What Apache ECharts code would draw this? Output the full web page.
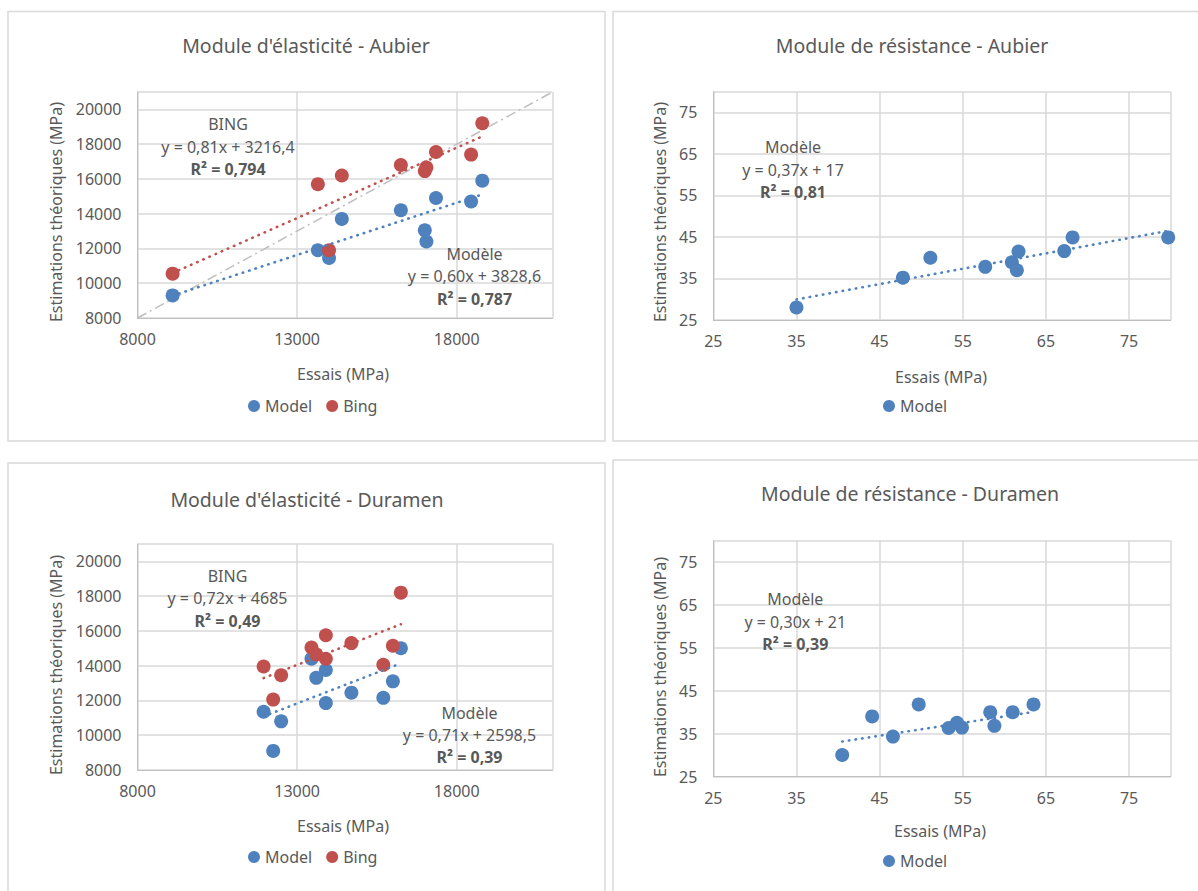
<!DOCTYPE html>
<html>
<head>
<meta charset="utf-8">
<script src="https://cdn.jsdelivr.net/npm/echarts@6/dist/echarts.min.js"></script>
<style>
html,body{margin:0;padding:0;background:#fff;}
#c{width:1198px;height:891px;}
</style>
</head>
<body>
<div id="c"></div>
<script>
// ---------- DATA ----------
// Module d'élasticité - Aubier
const elastAubierX      = [9100, 13650, 14000, 14400, 16250, 17000, 17050, 17350, 18450, 18800];
const elastAubierModelY = [9300, 11900, 11450, 13700, 14200, 13050, 12400, 14900, 14700, 15900];
const elastAubierBingY  = [10550, 15700, 11900, 16200, 16800, 16450, 16650, 17550, 17400, 19200];
const elastAubierModelFit = [0.60, 3828.6];
const elastAubierBingFit  = [0.81, 3216.4];

// Module de résistance - Aubier
const resAubierX      = [35, 47.8, 51.1, 57.7, 60.9, 61.7, 61.5, 67.2, 68.2, 79.7];
const resAubierModelY = [28, 35.2, 40, 37.8, 38.9, 41.5, 37, 41.6, 44.9, 44.9];
const resAubierModelFit = [0.37, 17];

// Module d'élasticité - Duramen
const elastDuramenX      = [11950, 12500, 12250, 13450, 13600, 13900, 13900, 14700, 15700, 16000, 16250];
const elastDuramenModelY = [11350, 10800, 9100, 14400, 13300, 13750, 11850, 12450, 12150, 13100, 15000];
const elastDuramenBingY  = [13950, 13450, 12050, 15050, 14650, 14400, 15750, 15300, 14050, 15150, 18200];
const elastDuramenModelFit = [0.71, 2598.5];
const elastDuramenBingFit  = [0.72, 4685];

// Module de résistance - Duramen
const resDuramenX      = [40.5, 44.1, 46.6, 49.7, 53.3, 54.3, 54.9, 58.3, 58.8, 61, 63.5];
const resDuramenModelY = [30, 39, 34.3, 41.8, 36.3, 37.5, 36.4, 40, 36.8, 40, 41.8];
const resDuramenModelFit = [0.30, 21];

// Axis scales
const elastAxis = [8000, 21000]; const elastXStep = 5000; const elastYStep = 2000;
const resAxis   = [25, 80];      const resStep = 10;

// Texts
const titles = ["Module d'élasticité - Aubier", "Module de résistance - Aubier",
                "Module d'élasticité - Duramen", "Module de résistance - Duramen"];
const xName = "Essais (MPa)";
const yName = "Estimations théoriques (MPa)";
const labelsP1 = [["BING", "y = 0,81x + 3216,4", "R² = 0,794"], ["Modèle", "y = 0,60x + 3828,6", "R² = 0,787"]];
const labelsP2 = [["Modèle", "y = 0,37x + 17", "R² = 0,81"]];
const labelsP3 = [["BING", "y = 0,72x + 4685", "R² = 0,49"], ["Modèle", "y = 0,71x + 2598,5", "R² = 0,39"]];
const labelsP4 = [["Modèle", "y = 0,30x + 21", "R² = 0,39"]];

// ---------- CHART ----------
const FONT = "'Noto Sans', sans-serif";
const TXT = '#595959';
const BLUE = '#4F81BD', RED = '#C0504D';
const GRID = '#D9D9D9';

const zip = (xs, ys) => xs.map((x, i) => [x, ys[i]]);
const fitLine = (xs, c) => { const lo = Math.min(...xs), hi = Math.max(...xs); return [[lo, c[0]*lo + c[1]], [hi, c[0]*hi + c[1]]]; };

const panels = [
  {grid:{left:137.5, top:92, width:415, height:226}, ax:elastAxis, xs:elastXStep, ys:elastYStep,
   title:[306,46], yN:[56,212], xN:[343,374], leg:[248,398], legData:['Model','Bing'], labels:labelsP1,
   labelPos:[[228,124,22.5],[474.5,254,22.3]]},
  {grid:{left:713.3, top:91.7, width:457.4, height:228.3}, ax:resAxis, xs:resStep, ys:resStep,
   title:[912,46], yN:[660,212], xN:[941,377], leg:[883,398], legData:['Model'], labels:labelsP2,
   labelPos:[[793,147.3,22.5]]},
  {grid:{left:137.5, top:544, width:415, height:226}, ax:elastAxis, xs:elastXStep, ys:elastYStep,
   title:[307,500], yN:[56,665], xN:[343,826], leg:[248,849], legData:['Model','Bing'], labels:labelsP3,
   labelPos:[[227.5,575.7,22.5],[469.5,712.7,22]]},
  {grid:{left:713.3, top:540.5, width:457.4, height:236}, ax:resAxis, xs:resStep, ys:resStep,
   title:[910,494], yN:[660,667], xN:[940,831], leg:[883,853], legData:['Model'], labels:labelsP4,
   labelPos:[[795.3,599,22.5]]}
];

const grids = [], xAxes = [], yAxes = [], titleOpts = [], legends = [], graphics = [];

// panel frames
[[8,11.5,597,429.5],[613,11.5,600,429.5],[8,463,597,440],[613,460,600,440]].forEach(r => {
  graphics.push({type:'rect', shape:{x:r[0], y:r[1], width:r[2], height:r[3]},
    style:{fill:'none', stroke:'#D9D9D9', lineWidth:1.5}, silent:true, z:-1});
});

const plain = v => String(v);

panels.forEach((p, i) => {
  grids.push(p.grid);
  const axisCommon = {
    type:'value', gridIndex:i, min:p.ax[0], max:p.ax[1],
    axisLine:{show:true, lineStyle:{color:'#BFBFBF', width:1}},
    axisTick:{show:false},
    splitLine:{show:true, lineStyle:{color:GRID, width:1.5}}
  };
  const lbl = m => ({color:TXT, fontFamily:FONT, fontSize:16, showMaxLabel:false, formatter:plain, margin:m});
  xAxes.push(Object.assign({}, axisCommon, {interval:p.xs, axisLabel:lbl(13)}));
  yAxes.push(Object.assign({}, axisCommon, {interval:p.ys, axisLabel:lbl(16)}));
  titleOpts.push({text:titles[i], left:p.title[0], top:p.title[1]-11, textAlign:'center', padding:0,
    textStyle:{color:TXT, fontFamily:FONT, fontSize:19.5, fontWeight:'normal'}});
  legends.push({data:p.legData, left:p.leg[0], top:p.leg[1], padding:0, itemGap:14,
    icon:'circle', itemWidth:12, itemHeight:12,
    textStyle:{color:TXT, fontFamily:FONT, fontSize:16}, selectedMode:false});
  graphics.push({type:'text', x:p.yN[0], y:p.yN[1], rotation:Math.PI/2, silent:true,
    style:{text:yName, fill:TXT, font:"16px 'Noto Sans', sans-serif", textAlign:'center', textVerticalAlign:'middle', align:'center', verticalAlign:'middle'}});
  graphics.push({type:'text', x:p.xN[0], y:p.xN[1], silent:true,
    style:{text:xName, fill:TXT, font:"16px 'Noto Sans', sans-serif", textAlign:'center', textVerticalAlign:'middle', align:'center', verticalAlign:'middle'}});
  p.labels.forEach((blk, k) => {
    const lp = p.labelPos[k];
    blk.forEach((t, j) => {
      graphics.push({type:'text', x:lp[0], y:lp[1] + j*lp[2], silent:true, z:100,
        style:{text:t, fill:TXT, font:(j===2?'bold ':'') + "16px 'Noto Sans', sans-serif",
          textAlign:'center', textVerticalAlign:'middle', align:'center', verticalAlign:'middle'}});
    });
  });
});

const dotStyle = c => ({color:c, width:2.6, type:[0.5, 6.2], cap:'round'});
const scatter = (name, g, data, color) => ({name, type:'scatter', xAxisIndex:g, yAxisIndex:g, data,
  symbol:'circle', symbolSize:14, itemStyle:{color, opacity:1}, z:3});
const trend = (name, g, data, color) => ({name, type:'line', xAxisIndex:g, yAxisIndex:g, data,
  showSymbol:false, symbol:'none', lineStyle:dotStyle(color), z:4, silent:true});

const series = [
  {name:'identity', type:'line', xAxisIndex:0, yAxisIndex:0, data:[[elastAxis[0], elastAxis[0]], [elastAxis[1], elastAxis[1]]],
   showSymbol:false, symbol:'none', lineStyle:{color:'#BFBFBF', width:1.5, type:[10,4,2,4]}, z:2, silent:true},
  scatter('Model', 0, zip(elastAubierX, elastAubierModelY), BLUE),
  scatter('Bing', 0, zip(elastAubierX, elastAubierBingY), RED),
  trend('Model trend', 0, fitLine(elastAubierX, elastAubierModelFit), BLUE),
  trend('Bing trend', 0, fitLine(elastAubierX, elastAubierBingFit), RED),

  scatter('Model', 1, zip(resAubierX, resAubierModelY), BLUE),
  trend('Model trend', 1, fitLine(resAubierX, resAubierModelFit), BLUE),

  scatter('Model', 2, zip(elastDuramenX, elastDuramenModelY), BLUE),
  scatter('Bing', 2, zip(elastDuramenX, elastDuramenBingY), RED),
  trend('Model trend', 2, fitLine(elastDuramenX, elastDuramenModelFit), BLUE),
  trend('Bing trend', 2, fitLine(elastDuramenX, elastDuramenBingFit), RED),

  scatter('Model', 3, zip(resDuramenX, resDuramenModelY), BLUE),
  trend('Model trend', 3, fitLine(resDuramenX, resDuramenModelFit), BLUE)
];

const chart = echarts.init(document.getElementById('c'), null, {renderer:'svg'});
chart.setOption({
  animation:false,
  backgroundColor:'#fff',
  textStyle:{fontFamily:FONT},
  title:titleOpts,
  legend:legends,
  grid:grids,
  xAxis:xAxes,
  yAxis:yAxes,
  series,
  graphic:{elements:graphics}
});
</script>
</body>
</html>
